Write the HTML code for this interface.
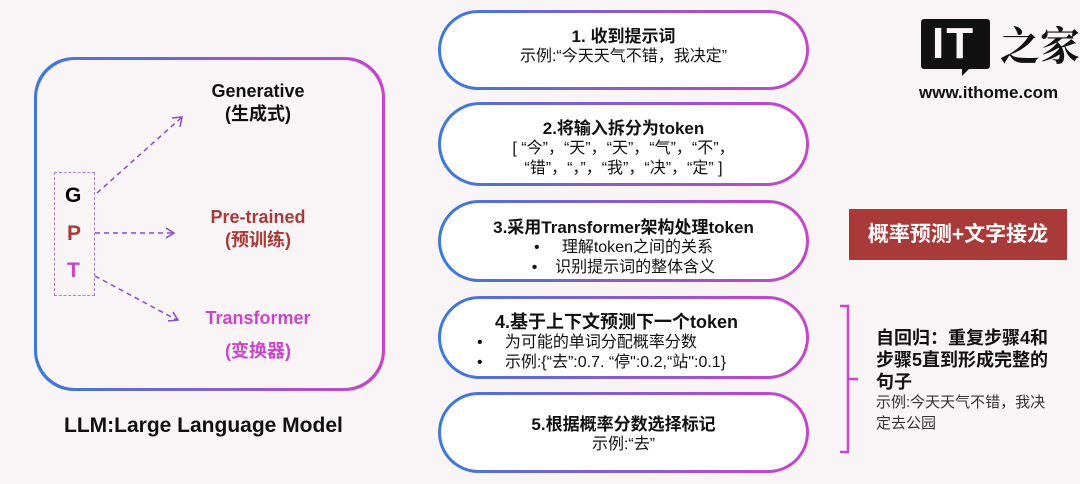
<!DOCTYPE html>
<html><head><meta charset="utf-8"><style>
body{margin:0;width:1080px;height:484px;background:#f9f4f5;position:relative;overflow:hidden;font-family:"Liberation Sans","Noto Sans CJK SC",sans-serif;color:#111}
.a{position:absolute}
.pill{position:absolute;left:438px;width:371px;border-radius:42px;padding:3px;background:linear-gradient(90deg,#3a7ad8,#8a5ad0,#c646c8);box-sizing:border-box}
.pill>div{background:#fff;border-radius:40px;height:100%;text-align:center;box-sizing:border-box}
.t{font-weight:bold;font-size:17px;line-height:21px}
.s{font-size:16px;line-height:20px}
.c{text-align:center;font-weight:bold;font-size:18px;line-height:23px}
</style></head><body>
<div class="a" style="left:34px;top:57px;width:351px;height:334px;border-radius:40px;padding:3px;box-sizing:border-box;background:linear-gradient(90deg,#3a7ad8,#c646c8)"><div style="background:#f9f4f5;border-radius:38px;height:100%"></div></div>
<div class="a" style="left:54px;top:172px;width:41px;height:124px;border:1.5px dashed #b47ad8;box-sizing:border-box"></div>
<div class="a" style="left:65px;top:184px;font-weight:bold;font-size:21px;color:#000">G</div>
<div class="a" style="left:67px;top:222px;font-weight:bold;font-size:21px;color:#a83a3a">P</div>
<div class="a" style="left:67px;top:259px;font-weight:bold;font-size:21px;color:#c846c8">T</div>
<svg class="a" style="left:0;top:0" width="400" height="400"><g stroke="#8a4ac8" stroke-width="1.5" fill="none" stroke-dasharray="5,4"><line x1="97" y1="193" x2="181" y2="118"/><line x1="95" y1="233" x2="173" y2="233"/><line x1="95" y1="276" x2="177" y2="320"/></g>
<g stroke="#8a4ac8" stroke-width="1.5" fill="none"><polyline points="172,118 182,117 180,127"/><polyline points="166,228 174,233 166,238"/><polyline points="168,321 178,320 173,312"/></g></svg>
<div class="a c" style="left:178px;top:80px;width:160px;color:#111">Generative<br>(生成式)</div>
<div class="a c" style="left:178px;top:206px;width:160px;color:#a83a3a">Pre-trained<br>(预训练)</div>
<div class="a c" style="left:178px;top:302px;width:160px;color:#c846c8;line-height:33px">Transformer<br>(变换器)</div>
<div class="a" style="left:64px;top:414px;font-weight:bold;font-size:21px">LLM:Large Language Model</div>

<div class="pill" style="top:10px;height:80px"><div style="padding-top:13px"><div class="t">1. 收到提示词</div><div class="s">示例:“今天天气不错，我决定”</div></div></div>
<div class="pill" style="top:102px;height:84px"><div style="padding-top:13px"><div class="t">2.将输入拆分为token</div><div class="s">[ “今”，“天”，“天”，“气”，“不”，<br>“错”，“，”，“我”，“决”，“定” ]</div></div></div>
<div class="pill" style="top:200px;height:82px"><div style="padding-top:14px"><div class="t">3.采用Transformer架构处理token</div><div class="s">•&nbsp;&nbsp;&nbsp;&nbsp;&nbsp;理解token之间的关系<br>•&nbsp;&nbsp;&nbsp;&nbsp;识别提示词的整体含义</div></div></div>
<div class="pill" style="top:296px;height:83px"><div style="padding-top:13px;text-align:left;padding-left:36px"><div class="t" style="font-size:18px;padding-left:18px">4.基于上下文预测下一个token</div><div class="s">•&nbsp;&nbsp;&nbsp;&nbsp;&nbsp;为可能的单词分配概率分数<br>•&nbsp;&nbsp;&nbsp;&nbsp;&nbsp;示例:{“去”:0.7. “停":0.2,“站":0.1}</div></div></div>
<div class="pill" style="top:392px;height:81px"><div style="padding-top:19px"><div class="t">5.根据概率分数选择标记</div><div class="s">示例:“去”</div></div></div>

<div class="a" style="left:849px;top:209px;width:218px;height:51px;background:#a83a3a;color:#fff;font-weight:bold;font-size:21px;line-height:51px;text-align:center">概率预测+文字接龙</div>
<svg class="a" style="left:836px;top:300px" width="30" height="160"><path d="M4 6 H12 V152 H4 M12 79 H22" stroke="#c846c8" stroke-width="2.5" fill="none"/></svg>
<div class="a" style="left:876px;top:327px;width:182px;font-weight:bold;font-size:18px;line-height:22px">自回归：重复步骤4和步骤5直到形成完整的句子</div>
<div class="a" style="left:876px;top:392px;width:172px;font-size:15px;line-height:21px;color:#333">示例:今天天气不错，我决定去公园</div>

<div class="a" style="left:921px;top:19px;width:69px;height:50px;background:#111;border-radius:3px"></div>
<div class="a" style="left:962px;top:66px;width:0;height:0;border-left:10px solid #111;border-bottom:10px solid transparent"></div>
<div class="a" style="left:932px;top:18px;color:#f9f4f5;font-weight:bold;font-size:44px;line-height:52px;letter-spacing:2px">IT</div>
<div class="a" style="left:1000px;top:18px;font-size:40px;line-height:52px;font-family:'Noto Serif CJK SC',serif;font-weight:bold">之家</div>
<div class="a" style="left:919px;top:83px;font-weight:bold;font-size:17px">www.ithome.com</div>
</body></html>
